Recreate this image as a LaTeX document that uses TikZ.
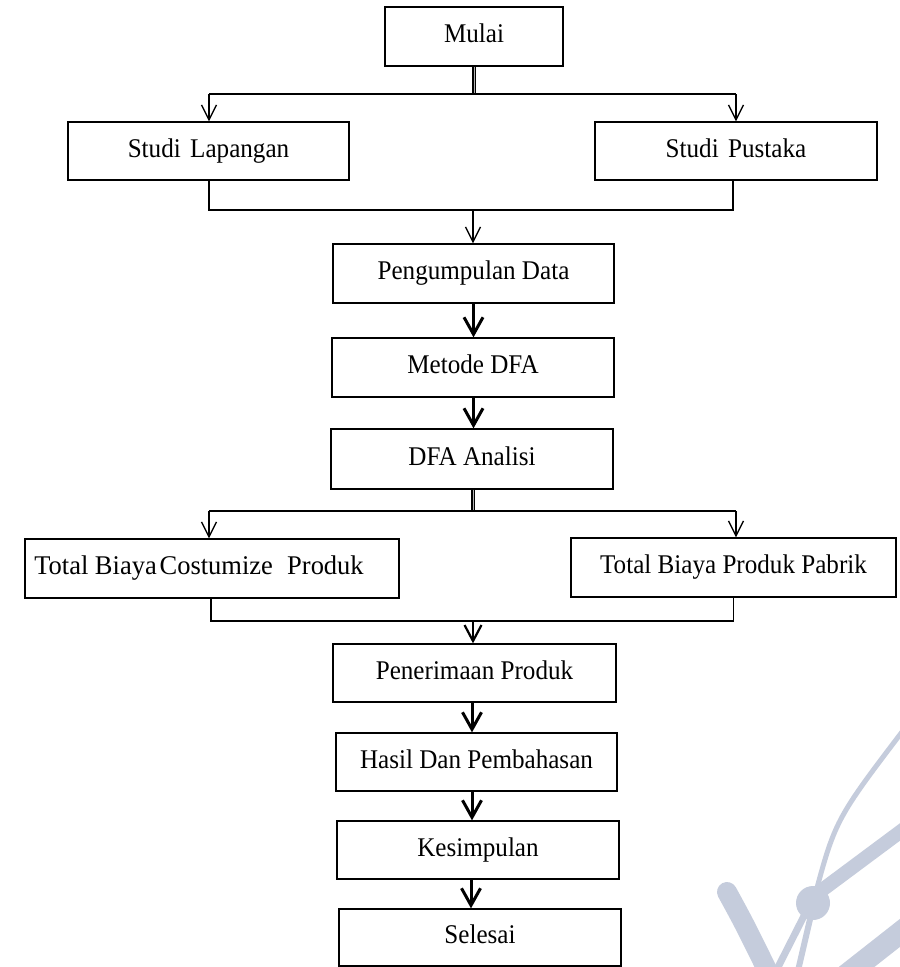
\documentclass[tikz,border=0pt]{standalone}
\usepackage{fontspec}
\setmainfont{Liberation Serif}[FakeStretch=0.93]
\usetikzlibrary{arrows.meta}
\definecolor{wmark}{RGB}{197,204,220}
\begin{document}
\begin{tikzpicture}[x=1pt,y=-1pt,
  box/.style={draw, line width=1.3pt, rectangle, inner sep=0pt,
    font=\fontsize{27}{31}\selectfont, text height=18pt, text depth=6pt},
  conn/.style={line width=1.3pt},
  dstem/.style={line width=1.3pt, double=gray!60, double distance=0.7pt},
  thinarrow/.style={line width=1.3pt, -{Straight Barb[length=15pt,width=15pt,line width=1.3pt]}},
  midarrow/.style={line width=2pt, -{Straight Barb[length=16pt,width=17pt,line width=2.2pt]}},
  thickarrow/.style={line width=3pt, -{Straight Barb[length=17pt,width=19pt,line width=3pt]}},
  wm/.style={wmark, line cap=round}
]
\useasboundingbox (0,0) rectangle (900,967);
\fill[white] (0,0) rectangle (900,967);
% watermark
\begin{scope}
\clip (0,0) rectangle (900,967);
\draw[wm, line width=20pt] (727,892) .. controls (745,925) .. (772,980);
\draw[wm, line width=5pt] (813,903) .. controls (835,820) .. (905,728);
\draw[wm, line width=14pt] (818,893) -- (908,826);
\draw[wm, line width=7pt] (806,912) -- (774,975);
\draw[wm, line width=6pt] (811,915) -- (797,975);
\draw[wm, line width=22pt] (840,980) -- (910,925);
\fill[wmark] (813,903) circle (17);
\end{scope}
% nodes
\node[box, minimum width=178pt, minimum height=59pt] (mulai) at (474,36.5) {Mulai};
\node[box, minimum width=281pt, minimum height=58pt] (sl) at (208.5,151) {Studi\hspace{0.35em}Lapangan};
\node[box, minimum width=282pt, minimum height=58pt] (sp) at (736,151) {Studi\hspace{0.35em}Pustaka};
\node[box, minimum width=281pt, minimum height=59pt] (pd) at (473.5,273.5) {Pengumpulan Data};
\node[box, minimum width=282pt, minimum height=59pt] (md) at (473,367.5) {Metode DFA};
\node[box, minimum width=282pt, minimum height=60pt] (da) at (472,459) {DFA Analisi};
\node[box, minimum width=374pt, minimum height=59pt] (tc) at (212,568.5) {\scalebox{1.055}[1]{Total Biaya\hspace{0.1em}Costumize\hspace{0.5em}Produk}\kern26pt};
\node[box, minimum width=325pt, minimum height=59pt] (tp) at (733.5,567.5) {Total Biaya Produk Pabrik};
\node[box, minimum width=283pt, minimum height=58pt] (pp) at (474.5,673) {Penerimaan Produk};
\node[box, minimum width=281pt, minimum height=58pt] (hp) at (476.5,762) {Hasil Dan Pembahasan};
\node[box, minimum width=282pt, minimum height=58pt] (ks) at (478,850) {Kesimpulan};
\node[box, minimum width=282pt, minimum height=57pt] (se) at (480,937.5) {Selesai};
% junctions
\coordinate (j1) at (474,94);
\coordinate (j2) at (473,210);
\coordinate (j3) at (473,511);
\coordinate (j4) at (473,621);
% connectors
\draw[dstem] (mulai.south) -- (j1);
\draw[conn] ([xshift=0.5pt]sl.north |- j1) -- (sp.north |- j1);
\draw[thinarrow] ([xshift=0.5pt]sl.north |- j1) -- ([xshift=0.5pt]sl.north);
\draw[thinarrow] (sp.north |- j1) -- (sp.north);
\draw[conn] ([xshift=0.5pt]sl.south) |- (j2) -| ([xshift=-3pt]sp.south);
\draw[thinarrow] (j2) -- (j2 |- pd.north);
\draw[thickarrow] (pd.south) -- (pd.south |- md.north);
\draw[thickarrow] ([xshift=0.5pt]md.south) -- ([xshift=0.5pt]md.south |- da.north);
\draw[dstem] ([xshift=1pt]da.south) -- (j3);
\draw[conn] ([xshift=-3pt]tc.north |- j3) -- ([xshift=2.5pt]tp.north |- j3);
\draw[thinarrow] ([xshift=-3pt]tc.north |- j3) -- ([xshift=-3pt]tc.north);
\draw[thinarrow] ([xshift=2.5pt]tp.north |- j3) -- ([xshift=2.5pt]tp.north);
\draw[conn] ([xshift=-1pt]tc.south) |- (j4) -| (tp.south);
\draw[midarrow] (j4) -- (j4 |- pp.north);
\draw[thickarrow] ([xshift=-2.5pt]pp.south) -- ([xshift=-2.5pt]pp.south |- hp.north);
\draw[thickarrow] ([xshift=-4.5pt]hp.south) -- ([xshift=-4.5pt]hp.south |- ks.north);
\draw[thickarrow] ([xshift=-7pt]ks.south) -- ([xshift=-7pt]ks.south |- se.north);
\end{tikzpicture}
\end{document}
